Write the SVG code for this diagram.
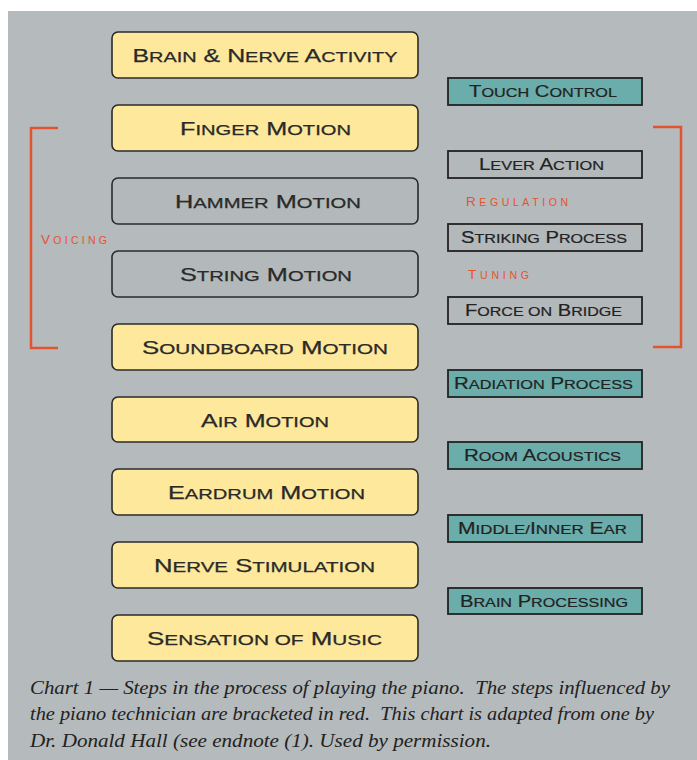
<svg xmlns="http://www.w3.org/2000/svg" width="697" height="760" viewBox="0 0 697 760">
<style>
.bg{fill:#b5babc}
.big{stroke:#2b2b2b;stroke-width:1.6}
.y{fill:#fde89c}
.g{fill:#b3b8ba}
.t{fill:#6badaa}
.sm{stroke:#222;stroke-width:1.8}
.lt{font-family:"Liberation Sans",Arial,sans-serif;font-size:17.5px;fill:#2a2a28;text-anchor:middle;stroke:#2a2a28;stroke-width:0.25}
.lt .s{font-size:14px}
.rt{font-family:"Liberation Sans",Arial,sans-serif;font-size:16px;fill:#222;text-anchor:middle;stroke:#222;stroke-width:0.2}
.rt .s{font-size:12.8px}
.red{font-family:"Liberation Sans",Arial,sans-serif;font-size:13.5px;fill:#e4532f}
.red .s{font-size:10.5px}
.br{fill:none;stroke:#e4532f;stroke-width:2.5}
.cap{font-family:"Liberation Serif","Times New Roman",serif;font-style:italic;font-size:19px;fill:#222;white-space:pre}
</style>
<rect x="0" y="0" width="697" height="760" fill="#ffffff"/>
<rect class="bg" x="8" y="11" width="689" height="749"/>

<g id="connectors">
<path class="br" d="M58,128 H31 V348 H58"/>
<path class="br" d="M653,127 H681 V347 H653"/>
</g>

<g id="brain-nerve"><rect class="y big" x="112" y="32" width="306" height="46" rx="6"/><text class="lt" x="265" y="62" textLength="265" lengthAdjust="spacingAndGlyphs">B<tspan class="s">RAIN</tspan> &amp; N<tspan class="s">ERVE</tspan> A<tspan class="s">CTIVITY</tspan></text></g>
<g id="finger"><rect class="y big" x="112" y="105" width="306" height="46" rx="6"/><text class="lt" x="265.5" y="135" textLength="171" lengthAdjust="spacingAndGlyphs">F<tspan class="s">INGER</tspan> M<tspan class="s">OTION</tspan></text></g>
<g id="hammer"><rect class="g big" x="112" y="178" width="306" height="46" rx="6"/><text class="lt" x="268" y="208" textLength="186" lengthAdjust="spacingAndGlyphs">H<tspan class="s">AMMER</tspan> M<tspan class="s">OTION</tspan></text></g>
<g id="string"><rect class="g big" x="112" y="251" width="306" height="46" rx="6"/><text class="lt" x="266" y="281" textLength="172" lengthAdjust="spacingAndGlyphs">S<tspan class="s">TRING</tspan> M<tspan class="s">OTION</tspan></text></g>
<g id="soundboard"><rect class="y big" x="112" y="324" width="306" height="46" rx="6"/><text class="lt" x="265" y="354" textLength="246" lengthAdjust="spacingAndGlyphs">S<tspan class="s">OUNDBOARD</tspan> M<tspan class="s">OTION</tspan></text></g>
<g id="air"><rect class="y big" x="112" y="397" width="306" height="45" rx="6"/><text class="lt" x="265" y="427" textLength="128" lengthAdjust="spacingAndGlyphs">A<tspan class="s">IR</tspan> M<tspan class="s">OTION</tspan></text></g>
<g id="eardrum"><rect class="y big" x="112" y="469" width="306" height="46" rx="6"/><text class="lt" x="266.5" y="499" textLength="197" lengthAdjust="spacingAndGlyphs">E<tspan class="s">ARDRUM</tspan> M<tspan class="s">OTION</tspan></text></g>
<g id="nerve"><rect class="y big" x="112" y="542" width="306" height="46" rx="6"/><text class="lt" x="264.5" y="572" textLength="221" lengthAdjust="spacingAndGlyphs">N<tspan class="s">ERVE</tspan> S<tspan class="s">TIMULATION</tspan></text></g>
<g id="sensation"><rect class="y big" x="112" y="615" width="306" height="46" rx="6"/><text class="lt" x="264.5" y="645" textLength="235" lengthAdjust="spacingAndGlyphs">S<tspan class="s">ENSATION OF</tspan> M<tspan class="s">USIC</tspan></text></g>

<g id="touch"><rect class="t sm" x="448" y="78" width="194" height="27"/><text class="rt" x="543" y="97" textLength="148" lengthAdjust="spacingAndGlyphs">T<tspan class="s">OUCH</tspan> C<tspan class="s">ONTROL</tspan></text></g>
<g id="lever"><rect class="g sm" x="448" y="151" width="194" height="27"/><text class="rt" x="541.5" y="170" textLength="125" lengthAdjust="spacingAndGlyphs">L<tspan class="s">EVER</tspan> A<tspan class="s">CTION</tspan></text></g>
<g id="striking"><rect class="g sm" x="448" y="224" width="194" height="27"/><text class="rt" x="544" y="243" textLength="166" lengthAdjust="spacingAndGlyphs">S<tspan class="s">TRIKING</tspan> P<tspan class="s">ROCESS</tspan></text></g>
<g id="force"><rect class="g sm" x="448" y="297" width="194" height="27"/><text class="rt" x="543.5" y="316" textLength="157" lengthAdjust="spacingAndGlyphs">F<tspan class="s">ORCE ON</tspan> B<tspan class="s">RIDGE</tspan></text></g>
<g id="radiation"><rect class="t sm" x="448" y="370" width="194" height="27"/><text class="rt" x="543.5" y="389" textLength="179" lengthAdjust="spacingAndGlyphs">R<tspan class="s">ADIATION</tspan> P<tspan class="s">ROCESS</tspan></text></g>
<g id="room"><rect class="t sm" x="448" y="442" width="194" height="27"/><text class="rt" x="542.5" y="461" textLength="157" lengthAdjust="spacingAndGlyphs">R<tspan class="s">OOM</tspan> A<tspan class="s">COUSTICS</tspan></text></g>
<g id="middle"><rect class="t sm" x="448" y="515" width="194" height="27"/><text class="rt" x="542.5" y="534" textLength="169" lengthAdjust="spacingAndGlyphs">M<tspan class="s">IDDLE/</tspan>I<tspan class="s">NNER</tspan> E<tspan class="s">AR</tspan></text></g>
<g id="brainproc"><rect class="t sm" x="448" y="588" width="194" height="26"/><text class="rt" x="544" y="607" textLength="168" lengthAdjust="spacingAndGlyphs">B<tspan class="s">RAIN</tspan> P<tspan class="s">ROCESSING</tspan></text></g>

<text class="red" x="41" y="244" textLength="66" lengthAdjust="spacing">V<tspan class="s">OICING</tspan></text>
<text class="red" x="466" y="206" textLength="102" lengthAdjust="spacing">R<tspan class="s">EGULATION</tspan></text>
<text class="red" x="468" y="279" textLength="61" lengthAdjust="spacing">T<tspan class="s">UNING</tspan></text>

<text class="cap" x="30" y="694" textLength="640" lengthAdjust="spacingAndGlyphs">Chart 1 — Steps in the process of playing the piano.  The steps influenced by</text>
<text class="cap" x="30" y="720" textLength="624" lengthAdjust="spacingAndGlyphs">the piano technician are bracketed in red.  This chart is adapted from one by</text>
<text class="cap" x="30" y="747" textLength="461" lengthAdjust="spacingAndGlyphs">Dr. Donald Hall (see endnote (1). Used by permission.</text>
</svg>
